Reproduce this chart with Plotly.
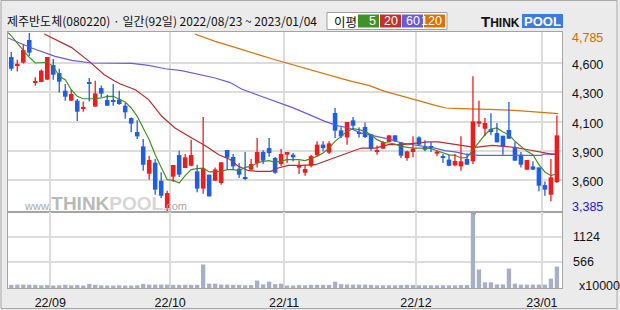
import plotly.graph_objects as go

# ---------------- data ----------------
opens = [4596, 4533, 4552, 4730, 4397, 4400, 4418, 4533, 4470, 4331,
         4253, 4253, 4195, 4397, 4206, 4352, 4258, 4258, 4261, 4213,
         4116, 4006, 3893, 3678, 3765, 3623, 3408, 3655, 3825, 3723,
         3741, 3697, 3561, 3671, 3623, 3605, 3865, 3810, 3718, 3650,
         3710, 3762, 3849, 3880, 3802, 3754, 3828, 3828, 3726, 3686,
         3741, 3823, 3907, 3844, 4156, 4019, 3964, 4098, 4006, 4046,
         3988, 3854, 3875, 3928, 3980, 3925, 3802, 3849, 3964, 3893,
         3888, 3836, 3810, 3789, 3744, 3736, 3794, 3776, 4072, 4032,
         4030, 3998, 3977, 4022, 3880, 3828, 3710, 3736, 3728, 3589,
         3513, 3613]
highs = [4635, 4575, 4698, 4785, 4436, 4497, 4596, 4580, 4504, 4384,
         4339, 4266, 4247, 4431, 4410, 4373, 4300, 4384, 4331, 4234,
         4120, 4098, 3951, 3820, 3794, 3689, 3545, 3747, 3859, 3833,
         3946, 3749, 4124, 3671, 3728, 3768, 3865, 3833, 3762, 3849,
         3794, 3959, 3862, 3959, 3810, 3873, 3849, 3841, 3783, 3749,
         3828, 3933, 3933, 3933, 4195, 4043, 4085, 4124, 4043, 4082,
         3988, 3901, 3933, 3980, 3980, 3925, 3859, 3972, 3972, 3941,
         3928, 3859, 3833, 3828, 3833, 3972, 3838, 4444, 4253, 4116,
         4153, 4077, 3977, 4242, 3925, 3849, 3786, 3776, 3728, 3618,
         3794, 4137]
lows = [4489, 4483, 4546, 4604, 4371, 4397, 4418, 4418, 4318, 4253,
        4253, 4093, 4166, 4247, 4206, 4282, 4213, 4213, 4221, 4111,
        4004, 3951, 3702, 3631, 3513, 3487, 3385, 3613, 3652, 3723,
        3736, 3532, 3521, 3500, 3623, 3592, 3710, 3710, 3644, 3629,
        3710, 3728, 3754, 3812, 3678, 3736, 3762, 3776, 3676, 3663,
        3728, 3815, 3854, 3833, 3959, 3959, 3907, 4025, 3964, 3959,
        3859, 3828, 3875, 3928, 3928, 3802, 3781, 3807, 3901, 3854,
        3849, 3815, 3762, 3736, 3736, 3702, 3749, 3755, 4046, 3972,
        3980, 3925, 3828, 3954, 3781, 3728, 3710, 3710, 3540, 3505,
        3461, 3605]
closes = [4504, 4541, 4651, 4630, 4405, 4489, 4596, 4457, 4402, 4284,
          4305, 4166, 4200, 4386, 4310, 4308, 4213, 4247, 4226, 4161,
          4072, 3972, 3749, 3786, 3553, 3505, 3526, 3747, 3671, 3807,
          3825, 3561, 3720, 3500, 3712, 3768, 3804, 3736, 3671, 3642,
          3754, 3849, 3781, 3841, 3686, 3833, 3849, 3807, 3747, 3715,
          3817, 3907, 3880, 3917, 4017, 3972, 4085, 4056, 3998, 3967,
          3875, 3865, 3925, 3980, 3933, 3820, 3854, 3875, 3907, 3867,
          3883, 3852, 3802, 3741, 3778, 3776, 3749, 4090, 4090, 4077,
          4006, 3925, 3893, 3954, 3781, 3749, 3786, 3710, 3584, 3553,
          3650, 3980]
volume = [70, 75, 75, 72, 70, 60, 65, 55, 60, 70,
          60, 65, 55, 90, 70, 60, 55, 55, 60, 55,
          55, 60, 90, 75, 75, 75, 75, 70, 70, 70,
          70, 70, 520, 96, 96, 75, 75, 70, 70, 60,
          65, 165, 80, 140, 85, 96, 55, 55, 65, 60,
          70, 70, 70, 70, 140, 85, 80, 75, 75, 75,
          70, 60, 60, 60, 60, 65, 70, 65, 60, 60,
          60, 60, 60, 60, 60, 65, 65, 1650, 410, 126,
          126, 80, 80, 430, 96, 75, 75, 75, 75, 75,
          207, 474]

ma5_x = [-0.55] + list(range(92))
ma5_y = [4787,
         4762, 4706, 4646, 4594, 4549, 4549, 4554, 4523, 4444, 4418,
         4339, 4287, 4268, 4268, 4268, 4274, 4287, 4287, 4265, 4242,
         4195, 4130, 4038, 3946, 3828, 3723, 3631, 3626, 3605, 3663,
         3710, 3718, 3723, 3692, 3692, 3697, 3710, 3710, 3702, 3728,
         3736, 3762, 3776, 3781, 3768, 3776, 3789, 3789, 3789, 3781,
         3797, 3815, 3841, 3880, 3933, 3972, 4011, 4032, 4025, 4011,
         3985, 3946, 3925, 3920, 3912, 3893, 3886, 3880, 3880, 3875,
         3875, 3859, 3841, 3826, 3823, 3802, 3807, 3867, 3933, 3985,
         4030, 4038, 4006, 3985, 3933, 3893, 3854, 3828, 3749, 3692,
         3663, 3678]
ma20_x = [5.5, 10, 13, 15.5, 17.3, 18.2, 20.7, 22.9, 25.1, 27.3, 30.1, 32.3,
          34.6, 36.5, 37.9, 39.6, 41.3, 43.3, 44.5, 46.2, 48.5, 50.7, 52.3,
          54, 56.2, 57.9, 58.4, 60.7, 62.9, 65.1, 67.3, 69.6, 71.2, 73.2,
          75.7, 77.3, 80.2, 83.9, 86.2, 88.4, 90.1, 91.2]
ma20_y = [4777, 4672, 4562, 4457, 4405, 4384, 4339, 4261, 4130, 4038, 3959, 3901,
          3828, 3790, 3736, 3702, 3697, 3697, 3723, 3744, 3744, 3749, 3776,
          3805, 3841, 3867, 3880, 3880, 3907, 3907, 3920, 3928, 3928, 3915,
          3893, 3886, 3901, 3886, 3867, 3849, 3833, 3833]
ma60_x = [-0.55, 3.4, 7.3, 10.1, 13.4, 18.2, 20.1, 22.9, 25.7, 28.4, 31.2, 34,
          36.5, 38.4, 41.2, 44, 46.8, 49.6, 52.3, 54.5, 56.2, 58.4, 60.7,
          63.4, 65.1, 67.9, 70.7, 72.3, 74, 75.7, 77.9, 88.4, 88.9, 91.2]
ma60_y = [4746, 4667, 4601, 4570, 4549, 4546, 4546, 4531, 4504, 4489, 4462, 4431,
          4395, 4345, 4295, 4250, 4200, 4145, 4090, 4055, 4040, 3998, 3972,
          3946, 3920, 3901, 3880, 3860, 3850, 3833, 3823, 3823, 3833, 3833]
ma120_x = [30.6, 34, 36.5, 38.4, 41.2, 44, 46.8, 49.6, 52.3, 54.8, 56.8, 59.6,
           62.3, 65.1, 67.9, 70.7, 72.5, 75.1, 77.9, 80.9, 83.9, 86.7, 89.6, 91.2]
ma120_y = [4777, 4719, 4684, 4654, 4615, 4575, 4536, 4497, 4462, 4430, 4405, 4373,
           4326, 4287, 4253, 4216, 4195, 4190, 4188, 4182, 4177, 4164, 4156, 4151]

month_pos = [6.5, 26.5, 45.5, 67.5, 88.5]
month_labels = ["22/09", "22/10", "22/11", "22/12", "23/01"]
price_grid = [4547, 4319, 4088, 3857, 3626]
price_grid_labels = ["4,600", "4,300", "4,100", "3,900", "3,600"]
price_max, price_min = 4785, 3385
price_max_label, price_min_label = "4,785", "3,385"
vol_grid = [566, 1124]
vol_grid_labels = ["566", "1124"]
vol_unit = "x10000"
title_text = "제주반도체(080220) · 일간(92일) 2022/08/23 ~ 2023/01/04"
ma_periods = ["5", "20", "60", "120"]

# ---------------- styling ----------------
W, H = 620, 310
ML, MR, MT, MB = 8, 58, 32, 22
PW, PH = W - ML - MR, H - MT - MB
RED = "#f01c1c"
BLUE = "#1f5fe0"
C5, C20, C60, C120 = "#4a8f1f", "#b82c2c", "#6a5ce0", "#d9740a"
GRID = "#dcdcdc"
BG = "#ebebeb"
FONT = "Liberation Sans, Noto Sans CJK KR, sans-serif"
split = (H - MB - 212) / PH


def px(x):
    return (x - ML) / PW


def py(y):
    return (H - MB - y) / PH


n = len(opens)
xs = list(range(n))
pad = (price_max - price_min) / 178.0
y_range = [price_min - pad, price_max + pad]

fig = go.Figure()

# moving averages (under candles)
for mx, my, col in [(ma120_x, ma120_y, C120), (ma60_x, ma60_y, C60),
                    (ma20_x, ma20_y, C20), (ma5_x, ma5_y, C5)]:
    fig.add_trace(go.Scatter(x=mx, y=my, mode="lines", line=dict(color=col, width=1.2),
                             xaxis="x", yaxis="y", hoverinfo="skip", showlegend=False))

# wicks
for is_up, col in [(True, RED), (False, BLUE)]:
    wx, wy = [], []
    for i in xs:
        if (closes[i] >= opens[i]) == is_up:
            wx += [i, i, None]
            wy += [lows[i], highs[i], None]
    fig.add_trace(go.Scatter(x=wx, y=wy, mode="lines", line=dict(color=col, width=1.3),
                             xaxis="x", yaxis="y", hoverinfo="skip", showlegend=False))

# bodies
for is_up, col in [(True, RED), (False, BLUE)]:
    bx, bb, bh = [], [], []
    for i in xs:
        if (closes[i] >= opens[i]) == is_up:
            bx.append(i)
            bb.append(min(opens[i], closes[i]))
            bh.append(max(abs(closes[i] - opens[i]), 9))
    fig.add_trace(go.Bar(x=bx, y=bh, base=bb, width=0.76, marker=dict(color=col, line=dict(width=0)),
                         xaxis="x", yaxis="y", hoverinfo="skip", showlegend=False))

# volume
fig.add_trace(go.Bar(x=xs, y=volume, width=0.72, marker=dict(color="#a6afc5", line=dict(width=0)),
                     xaxis="x2", yaxis="y2", hoverinfo="skip", showlegend=False))

x_range = [-0.55, 91.85]
axis_common = dict(showline=True, linecolor="#a4a4a4", linewidth=1, mirror=True, automargin=False,
                   zeroline=False, gridcolor=GRID, gridwidth=1.5, fixedrange=True)

fig.update_layout(
    width=W, height=H, margin=dict(l=ML, r=MR, t=MT, b=MB, autoexpand=False),
    paper_bgcolor=BG, plot_bgcolor="white", barmode="overlay", showlegend=False,
    hovermode=False,
    xaxis=dict(domain=[0, 1], anchor="y", range=x_range, tickvals=month_pos,
               showticklabels=False, ticks="", showgrid=True, **axis_common),
    yaxis=dict(domain=[split, 1], anchor="x", range=y_range, tickvals=price_grid,
               showticklabels=False, ticks="", showgrid=True, **axis_common),
    xaxis2=dict(domain=[0, 1], anchor="y2", range=x_range, tickvals=month_pos,
                ticktext=month_labels, showticklabels=True, ticks="outside", ticklen=3,
                tickcolor=BG, showgrid=True, tickfont=dict(family=FONT, size=12.5, color="#111"),
                **axis_common),
    yaxis2=dict(domain=[0, split], anchor="x2", range=[0, 1680], tickvals=vol_grid,
                showticklabels=False, ticks="", showgrid=True, **axis_common),
)

ann = []
shapes = []

# outer border
shapes.append(dict(type="rect", xref="paper", yref="paper", x0=px(1), x1=px(617), y0=py(308.5), y1=py(0.5),
                   line=dict(color="#a8a8a8", width=1), fillcolor="rgba(0,0,0,0)", layer="below"))

# title
ann.append(dict(text=title_text, xref="paper", yref="paper", x=px(5), y=py(20.5), xanchor="left",
                yanchor="middle", showarrow=False,
                font=dict(family="Noto Sans CJK KR, sans-serif", size=12, color="#111")))

# legend box
shapes.append(dict(type="rect", xref="paper", yref="paper", x0=px(327), x1=px(447), y0=py(29.5), y1=py(12.5),
                   line=dict(color="#a0a0a0", width=1), fillcolor="white"))
ann.append(dict(text="이평", xref="paper", yref="paper", x=px(332), y=py(21), xanchor="left",
                yanchor="middle", showarrow=False,
                font=dict(family="Noto Sans CJK KR, sans-serif", size=12.5, color="#111")))
for (x0, x1), col, lab in zip([(358, 379), (380, 401), (402, 423), (424, 445)],
                              ["#3f9227", "#c4302c", "#6b5ad6", "#de7200"], ma_periods):
    shapes.append(dict(type="rect", xref="paper", yref="paper", x0=px(x0), x1=px(x1), y0=py(27.5), y1=py(14.5),
                       line=dict(width=0), fillcolor=col))
    ann.append(dict(text=lab, xref="paper", yref="paper", x=px(x1 - 1), y=py(21), xanchor="right",
                    yanchor="middle", showarrow=False, font=dict(family=FONT, size=12.5, color="white")))

# THINKPOOL logo
shapes.append(dict(type="rect", xref="paper", yref="paper", x0=px(522), x1=px(563), y0=py(28), y1=py(14),
                   line=dict(width=0), fillcolor="#3d7be0"))
ann.append(dict(text="<b>T<span style='font-size:12px'>HINK</span></b>", xref="paper", yref="paper",
                x=px(522), y=py(21.5), xanchor="right", yanchor="middle", showarrow=False,
                font=dict(family="Liberation Sans, sans-serif", size=15, color="#111")))
ann.append(dict(text="<b>POOL</b>", xref="paper", yref="paper", x=px(542.5), y=py(21.5), xanchor="center",
                yanchor="middle", showarrow=False,
                font=dict(family="Liberation Sans, sans-serif", size=13, color="white")))

# watermark
ann.append(dict(text="<span style='font-size:11px;color:#a8a8a8'>www.</span>"
                     "<b><span style='color:#b9b9b9'>THINK</span><span style='color:#d6d6d6'>POOL</span></b>"
                     "<span style='font-size:11px;color:#a8a8a8'>.com</span>",
                xref="paper", yref="paper", x=px(22), y=py(203), xanchor="left", yanchor="middle",
                showarrow=False, font=dict(family="Liberation Sans, sans-serif", size=19, color="#bbb")))

# small marker at bottom of price panel
shapes.append(dict(type="rect", xref="paper", yref="paper", x0=px(471), x1=px(476), y0=py(214.5), y1=py(212.5),
                   line=dict(width=0), fillcolor="#9aa3b8"))

# right-side labels
lab_font = dict(family=FONT, size=12.5, color="#111")
ann.append(dict(text=price_max_label, xref="paper", yref="y", x=px(570), y=price_max - 5 * pad,
                xanchor="left", yanchor="middle", showarrow=False,
                font=dict(family=FONT, size=12.5, color="#d46a00")))
ann.append(dict(text=price_min_label, xref="paper", yref="y", x=px(570), y=price_min + 4 * pad,
                xanchor="left", yanchor="middle", showarrow=False,
                font=dict(family=FONT, size=12.5, color="#1c1cc8")))
for v, t in zip(price_grid, price_grid_labels):
    ann.append(dict(text=t, xref="paper", yref="y", x=px(570), y=v - 2 * pad, xanchor="left",
                    yanchor="middle", showarrow=False, font=lab_font))
for v, t in zip(vol_grid, vol_grid_labels):
    ann.append(dict(text=t, xref="paper", yref="y2", x=px(571), y=v, xanchor="left",
                    yanchor="middle", showarrow=False, font=lab_font))
ann.append(dict(text=vol_unit, xref="paper", yref="paper", x=px(577), y=py(285.5), xanchor="left",
                yanchor="middle", showarrow=False, font=lab_font))

fig.update_layout(annotations=ann, shapes=shapes)
fig.write_html("out.html")
